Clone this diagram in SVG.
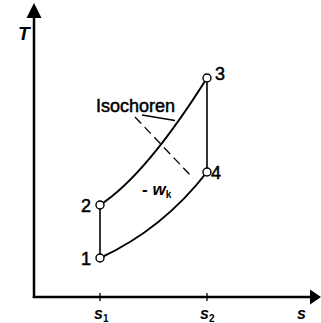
<svg xmlns="http://www.w3.org/2000/svg" width="321" height="323" viewBox="0 0 321 323">
<defs>
<style>
.ax{stroke:#000;stroke-width:2.5;fill:none}
.cv{stroke:#000;stroke-width:2;fill:none}
.vl{stroke:#000;stroke-width:1.6;fill:none}
.pt{fill:#fff;stroke:#000;stroke-width:1.4}
.num{font-family:"Liberation Sans",Arial,sans-serif;font-size:18px;fill:#000;stroke:#000;stroke-width:0.5}
.var{font-family:"Liberation Sans",Arial,sans-serif;font-style:italic;font-weight:bold;fill:#000}
.sub{font-style:normal;font-size:10px}
</style>
</defs>
<g id="axes">
<line class="ax" x1="34" y1="298" x2="34" y2="16"/>
<polygon points="34,3 26.5,18 41.5,18" fill="#000"/>
<line class="ax" x1="32.8" y1="297" x2="312" y2="297"/>
<polygon points="321,297 310,289.5 310,304.5" fill="#000"/>
<line x1="100" y1="293" x2="100" y2="301" stroke="#000" stroke-width="1.3"/>
<line x1="207" y1="293" x2="207" y2="301" stroke="#000" stroke-width="1.3"/>
<text class="var" x="18" y="40" font-size="19">T</text>
<text class="var" x="94" y="318.5" font-size="16">s<tspan class="sub" dy="3">1</tspan></text>
<text class="var" x="200" y="318.5" font-size="16">s<tspan class="sub" dy="3">2</tspan></text>
<text class="var" x="297" y="318.5" font-size="16">s</text>
</g>
<g id="connectors">
<line class="vl" x1="100" y1="209" x2="100" y2="254"/>
<line class="vl" x1="207" y1="82" x2="207" y2="168"/>
<path class="cv" d="M100,205 Q146,175 207,78"/>
<path class="cv" d="M100,258 Q163,229 207,172"/>
<line x1="135" y1="117" x2="193" y2="178" stroke="#000" stroke-width="1.3" stroke-dasharray="9,5"/>
<line x1="142" y1="115" x2="175" y2="120.5" stroke="#000" stroke-width="1.3"/>
</g>
<g id="p1"><circle class="pt" cx="100" cy="258" r="4"/><text class="num" x="91" y="265" text-anchor="end">1</text></g>
<g id="p2"><circle class="pt" cx="100" cy="205" r="4"/><text class="num" x="91" y="212" text-anchor="end">2</text></g>
<g id="p3"><circle class="pt" cx="207" cy="78" r="4"/><text class="num" x="215" y="79.5">3</text></g>
<g id="p4"><circle class="pt" cx="207" cy="172" r="4"/><text class="num" x="211" y="178.5">4</text></g>
<g id="labels">
<text class="num" x="96" y="111.5" font-size="18.3px">Isochoren</text>
<text class="var" x="142" y="195" font-size="17"><tspan font-style="normal">-</tspan> w<tspan class="sub" dy="3">k</tspan></text>
</g>
</svg>
